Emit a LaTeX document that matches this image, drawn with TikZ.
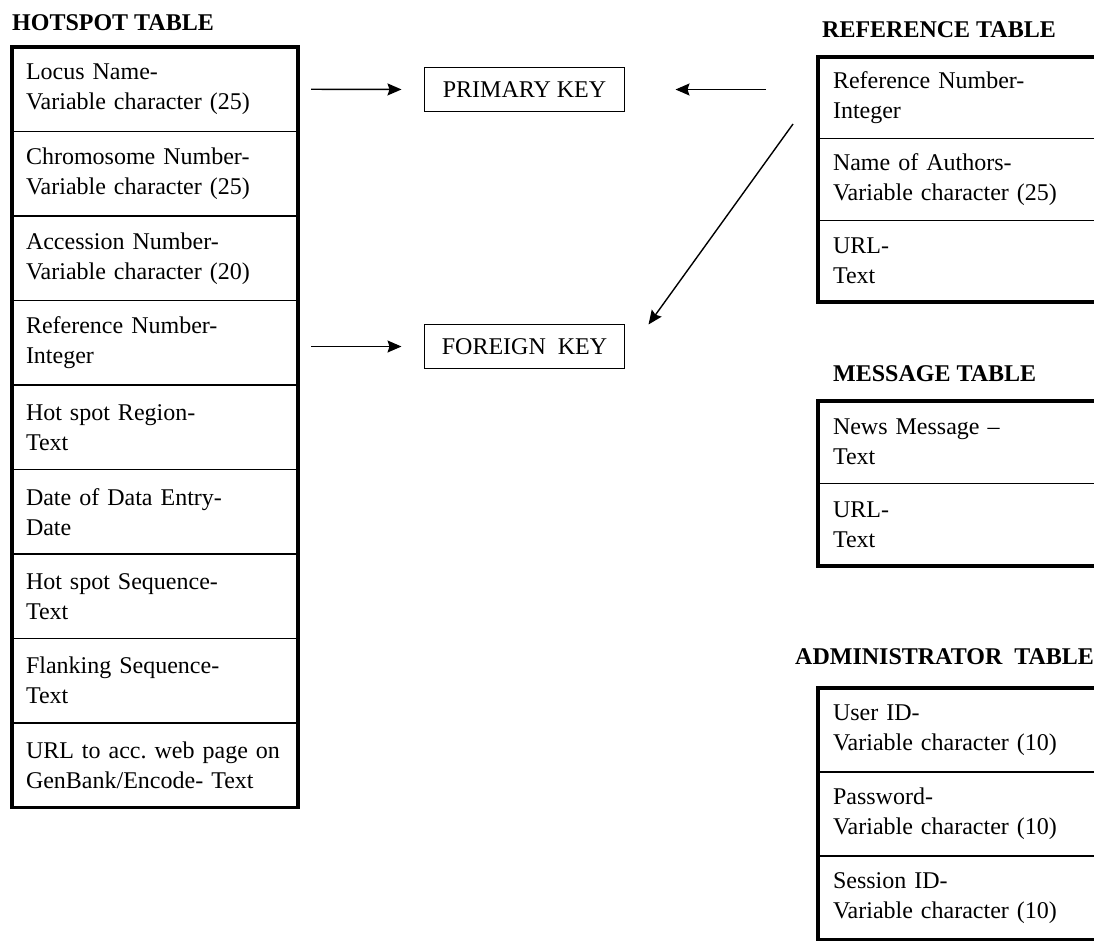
\documentclass[tikz,border=0pt]{standalone}
\usepackage{fontspec}
\setmainfont{Liberation Serif}
\usetikzlibrary{positioning,arrows.meta}
\tikzset{
>={Stealth[length=14pt,width=12pt,inset=2pt]},
field/.style={draw, line width=1.4pt, outer sep=0pt, anchor=north west, inner ysep=0pt, inner xsep=15pt,
  minimum height=83pt, text width=262pt, align=left, font=\fontsize{24}{30}\selectfont},
hotfield/.style={field, minimum height=84.5pt, inner xsep=14pt, text width=258pt},
frame/.style={draw, line width=3.5pt},
tabletitle/.style={anchor=base west, inner sep=0pt, font=\fontsize{24}{30}\selectfont\bfseries},
keybox/.style={draw, line width=1.3pt, outer sep=0pt, minimum width=200pt, minimum height=44pt,
  font=\fontsize{24}{30}\selectfont},
link/.style={->, line width=1.4pt},
}
\frenchspacing

\begin{document}
\begin{tikzpicture}[x=1pt,y=-1pt]
        \useasboundingbox (0,0) rectangle (1094,940);
        \clip (0,0) rectangle (1094,940);

        % hotspot table
        \node[tabletitle] (hottitle) at (12,30) {HOTSPOT TABLE};
        \node[hotfield] (h1) at (12,47) {Locus Name-\\Variable character (25)};
        \node[hotfield,below=0pt of h1] (h2) {Chromosome Number-\\Variable character (25)};
        \node[hotfield,below=0pt of h2] (h3) {Accession Number-\\Variable character (20)};
        \node[hotfield,below=0pt of h3] (h4) {Reference Number-\\Integer};
        \node[hotfield,below=0pt of h4] (h5) {Hot spot Region-\\Text};
        \node[hotfield,below=0pt of h5] (h6) {Date of Data Entry-\\Date};
        \node[hotfield,below=0pt of h6] (h7) {Hot spot Sequence-\\Text};
        \node[hotfield,below=0pt of h7] (h8) {Flanking Sequence-\\Text};
        \node[hotfield,below=0pt of h8] (h9) {URL to acc. web page on\\GenBank/Encode- Text};
        \draw[frame] (h1.north west) rectangle (h9.south east);

        % keys
        \node[keybox] (prim) at (524.5,89.5) {PRIMARY KEY};
        \node[keybox,below=213pt of prim] (fkey) {FOREIGN\ \ KEY};

        % reference table
        \node[tabletitle] (reftitle) at (822,37) {REFERENCE TABLE};
        \node[field,minimum height=81.7pt] (r1) at (818,57) {Reference Number-\\Integer};
        \node[field,minimum height=81.7pt,below=0pt of r1] (r2) {Name of Authors-\\Variable character (25)};
        \node[field,minimum height=81.7pt,below=0pt of r2] (r3) {URL-\\Text};
        \draw[frame] (r1.north west) rectangle (r3.south east);

        % message table
        \node[tabletitle] (msgtitle) at (833,381) {MESSAGE TABLE};
        \node[field,minimum height=82.5pt] (m1) at (818,401) {News Message --\\Text};
        \node[field,minimum height=82.5pt,below=0pt of m1] (m2) {URL-\\Text};
        \draw[frame] (m1.north west) rectangle (m2.south east);

        % administrator table
        \node[tabletitle] (admtitle) at (795,664) {ADMINISTRATOR\ \ TABLE};
        \node[field,minimum height=84pt] (a1) at (818,688) {User ID-\\Variable character (10)};
        \node[field,minimum height=84pt,below=0pt of a1] (a2) {Password-\\Variable character (10)};
        \node[field,minimum height=84pt,below=0pt of a2] (a3) {Session ID-\\Variable character (10)};
        \draw[frame] (a1.north west) rectangle (a3.south east);

        % links
        \coordinate (refstub) at (793,124);
        \draw[link, shorten <=13pt, shorten >=23pt] (h1.east) -- (prim.west);
        \draw[link, shorten <=52pt, shorten >=51pt] (r1.west |- prim.east) -- (prim.east);
        \draw[link, shorten <=13pt, shorten >=23pt] (h4.east |- fkey.west) -- (fkey.west);
        \draw[link] (refstub) -- ([xshift=24pt]fkey.north east);
    \end{tikzpicture}
\end{document}
